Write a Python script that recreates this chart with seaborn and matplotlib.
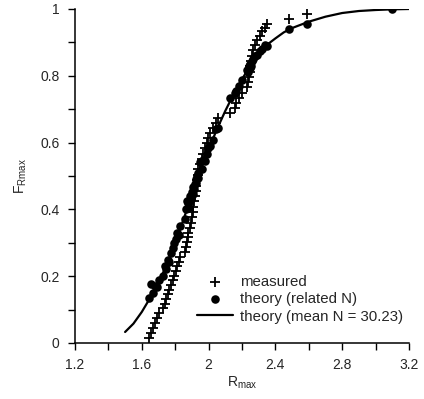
import matplotlib
matplotlib.use("Agg")
import matplotlib.pyplot as plt
from matplotlib.ticker import MultipleLocator
import seaborn as sns
import pandas as pd

# measured R_max values and their plotting positions
r_measured = [1.645, 1.656, 1.667, 1.679, 1.692, 1.705, 1.727, 1.738, 1.745, 1.755,
              1.764, 1.774, 1.785, 1.794, 1.805, 1.813, 1.820, 1.829, 1.857, 1.864,
              1.869, 1.875, 1.879, 1.889, 1.894, 1.899, 1.904, 1.909, 1.914, 1.919,
              1.923, 1.927, 1.930, 1.934, 1.939, 1.948, 1.960, 1.968, 1.978, 1.990,
              1.998, 2.008, 2.027, 2.047, 2.058, 2.128, 2.157, 2.167, 2.180, 2.200,
              2.228, 2.238, 2.242, 2.245, 2.248, 2.253, 2.258, 2.268, 2.278, 2.288,
              2.308, 2.318, 2.338, 2.348, 2.483, 2.587]
f_measured = [0.015, 0.030, 0.045, 0.060, 0.075, 0.090, 0.104, 0.118, 0.132, 0.146,
              0.160, 0.174, 0.188, 0.202, 0.216, 0.230, 0.244, 0.258, 0.272, 0.287,
              0.301, 0.316, 0.330, 0.345, 0.360, 0.376, 0.392, 0.408, 0.424, 0.440,
              0.456, 0.471, 0.487, 0.503, 0.520, 0.536, 0.552, 0.567, 0.584, 0.599,
              0.614, 0.629, 0.644, 0.659, 0.674, 0.689, 0.705, 0.720, 0.735, 0.750,
              0.766, 0.782, 0.797, 0.812, 0.828, 0.844, 0.860, 0.876, 0.892, 0.906,
              0.920, 0.934, 0.944, 0.955, 0.969, 0.985]

# theory with the N of each specimen
r_related = r_measured + [3.096]
f_related = [0.136, 0.176, 0.150, 0.172, 0.168, 0.190, 0.201, 0.232, 0.222, 0.248,
             0.243, 0.268, 0.285, 0.300, 0.310, 0.330, 0.322, 0.351, 0.372, 0.400,
             0.426, 0.405, 0.420, 0.440, 0.432, 0.452, 0.445, 0.468, 0.462, 0.477,
             0.490, 0.480, 0.500, 0.495, 0.510, 0.541, 0.522, 0.548, 0.545, 0.565,
             0.585, 0.590, 0.607, 0.640, 0.645, 0.733, 0.748, 0.755, 0.770, 0.788,
             0.817, 0.812, 0.830, 0.822, 0.835, 0.828, 0.845, 0.850, 0.858, 0.862,
             0.875, 0.880, 0.892, 0.890, 0.940, 0.956, 0.999]

# theory with mean N = 30.23
r_curve = [1.50, 1.55, 1.60, 1.65, 1.70, 1.75, 1.80, 1.85, 1.90, 1.95, 2.00, 2.05,
           2.10, 2.15, 2.20, 2.25, 2.30, 2.35, 2.40, 2.45, 2.50, 2.60, 2.70, 2.80,
           2.90, 3.00, 3.10, 3.20]
f_curve = [0.033, 0.058, 0.093, 0.135, 0.180, 0.235, 0.300, 0.370, 0.445, 0.515,
           0.580, 0.640, 0.695, 0.745, 0.790, 0.830, 0.865, 0.893, 0.912, 0.930,
           0.943, 0.962, 0.977, 0.988, 0.994, 0.997, 0.999, 1.000]

meas = pd.DataFrame({"R": r_measured, "F": f_measured})
rel = pd.DataFrame({"R": r_related, "F": f_related})
curve = pd.DataFrame({"R": r_curve, "F": f_curve})

sns.set_style("ticks")
plt.rcParams["font.family"] = ["Liberation Sans", "DejaVu Sans"]
plt.rcParams["mathtext.fontset"] = "custom"
plt.rcParams["mathtext.rm"] = "Liberation Sans"

fig = plt.figure(figsize=(4.24, 3.99), dpi=100)
ax = fig.add_axes([75 / 424, 1 - 343 / 399, 334 / 424, 334 / 399])

sns.lineplot(data=curve, x="R", y="F", color="black", linewidth=1.6,
             label="theory (mean N = 30.23)", ax=ax, zorder=2)
sns.scatterplot(data=meas, x="R", y="F", marker="+", color="black", s=55,
                linewidth=1.3, label="measured", ax=ax, zorder=3)
sns.scatterplot(data=rel, x="R", y="F", marker="o", color="black", s=38,
                edgecolor="black", linewidth=0, label="theory (related N)", ax=ax, zorder=3)

ax.set_xlim(1.2, 3.2)
ax.set_ylim(0, 1)
ax.xaxis.set_major_locator(MultipleLocator(0.4))
ax.xaxis.set_minor_locator(MultipleLocator(0.2))
ax.yaxis.set_major_locator(MultipleLocator(0.2))
ax.yaxis.set_minor_locator(MultipleLocator(0.1))
ax.set_xticklabels([f"{v:g}" for v in ax.get_xticks()])
ax.set_yticklabels([f"{v:g}" for v in ax.get_yticks()])
ax.tick_params(which="both", direction="out", length=5, width=1, color="black",
               labelsize=10, pad=6)
for s in ["left", "bottom"]:
    ax.spines[s].set_linewidth(1.1)
    ax.spines[s].set_color("black")
sns.despine(ax=ax)

ax.set_xlabel(r"R$_{\mathrm{max}}$", fontsize=10, labelpad=2)
ax.set_ylabel(r"F$_{\mathrm{Rmax}}$", fontsize=10, labelpad=8)

h, l = ax.get_legend_handles_labels()
order = [l.index("measured"), l.index("theory (related N)"), l.index("theory (mean N = 30.23)")]
ax.legend([h[i] for i in order], [l[i] for i in order], loc="lower right",
          bbox_to_anchor=(1.0, 0.04), frameon=False, fontsize=10.8,
          handlelength=2.4, handletextpad=0.45, labelspacing=0.22, borderaxespad=0)

fig.savefig("out.png", dpi=100)
